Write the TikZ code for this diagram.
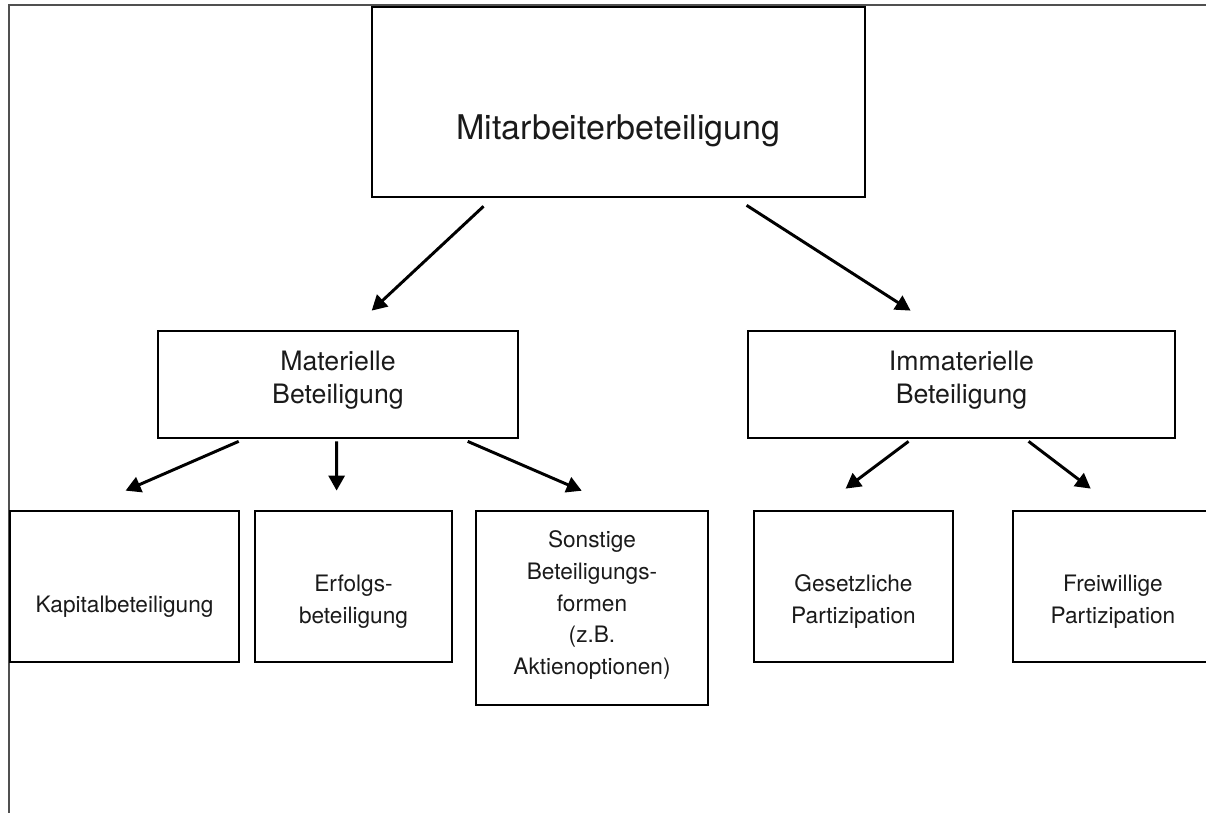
\documentclass[tikz,border=0pt]{standalone}
\usepackage{fontspec}
\setmainfont{TeX Gyre Heros}
\usepackage{xcolor}
\definecolor{beteilDark}{HTML}{1A1A1A}
\definecolor{beteilFrame}{HTML}{505050}
\usepackage{tikz}
\usetikzlibrary{arrows.meta,positioning,calc}
\tikzset{
    box/.style={
        draw=black,
        rectangle,
        line width=1.8pt,
        inner sep=0pt
    },
    toptext/.style={
        font=\fontsize{24.2}{29}\selectfont,
        text=beteilDark
    },
    midtext/.style={
        font=\fontsize{19}{23.5}\selectfont,
        text=beteilDark,
        align=center
    },
    subtext/.style={
        font=\fontsize{16.1}{22.5}\selectfont,
        text=beteilDark,
        align=center
    },
    arrow/.style={
        -{Triangle[length=10.7pt,width=11.4pt]},
        line width=2.1pt,
        color=black
    }
}

\begin{document}
\begin{tikzpicture}[x=0.025cm, y=-0.025cm]
    \useasboundingbox (0,0) rectangle (1206,812);
    \clip (0,0) rectangle (1206,812);

    % Frame
    \draw[beteilFrame, line width=1.5pt] (9,840) -- (9,5) -- (1240,5);

    % Top
    \node[box, minimum width=12.33cm, minimum height=4.75cm] (top) at (618.5,102) {};
    \node[toptext] (toplabel) at ($(top.center)+(0,29)$) {Mitarbeiterbeteiligung};

    % Second level
    \node[box, minimum width=9cm, minimum height=2.68cm] (mat) at (338,384.5) {};
    \node[midtext] (matlabel) at ($(mat.center)+(0,-4)$) {Materielle\\Beteiligung};
    \node[box, minimum width=10.68cm, minimum height=2.68cm] (imm) at (961.5,384.5) {};
    \node[midtext] (immlabel) at ($(imm.center)+(0,-4)$) {Immaterielle\\Beteiligung};

    % Third level
    \node[box, minimum width=5.73cm, minimum height=3.78cm] (kap) at (124.5,586.5) {};
    \node[subtext] (kaplabel) at ($(kap.center)+(0,20)$) {Kapitalbeteiligung};
    \node[box, minimum width=4.93cm, minimum height=3.78cm] (erf) at (353.5,586.5) {};
    \node[subtext] (erflabel) at ($(erf.center)+(0,15)$) {Erfolgs-\\beteiligung};
    \node[box, minimum width=5.8cm, minimum height=4.85cm] (son) at (592,608) {};
    \node[subtext] (sonlabel) at ($(son.center)+(0,-3)$)
        {Sonstige\\Beteiligungs-\\formen\\(z.B.\\Aktienoptionen)};
    \node[box, minimum width=4.98cm, minimum height=3.78cm] (ges) at (853.5,586.5) {};
    \node[subtext] (geslabel) at ($(ges.center)+(0,15)$) {Gesetzliche\\Partizipation};
    \node[box, minimum width=5cm, minimum height=3.78cm] (frei) at (1113,586.5) {};
    \node[subtext] (freilabel) at ($(frei.center)+(0,15)$) {Freiwillige\\Partizipation};

    % Arrows
    \draw[arrow] ([shift={(113,8)}]top.south west) -- ([shift={(215,-19)}]mat.north west);
    \draw[arrow] ([shift={(376,7)}]top.south west) -- ([shift={(164,-19)}]imm.north west);
    \draw[arrow] ([shift={(82,2)}]mat.south west) -- ([shift={(117,-19)}]kap.north west);
    \draw[arrow] ([shift={(180,2)}]mat.south west) -- ([shift={(83,-19)}]erf.north west);
    \draw[arrow] ([shift={(311,2)}]mat.south west) -- ([shift={(107,-19)}]son.north west);
    \draw[arrow] ([shift={(162,2)}]imm.south west) -- ([shift={(93,-21)}]ges.north west);
    \draw[arrow] ([shift={(282,2)}]imm.south west) -- ([shift={(79,-21)}]frei.north west);
\end{tikzpicture}
\end{document}
